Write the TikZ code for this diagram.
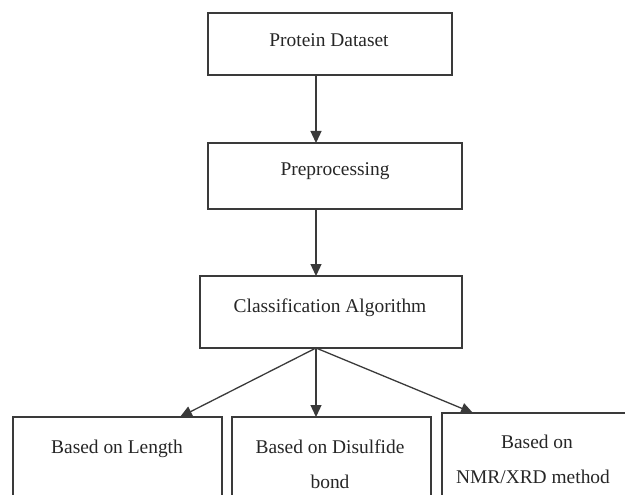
\documentclass[tikz,border=0pt]{standalone}
\usepackage{fontspec}
\setmainfont{Liberation Serif}
\usetikzlibrary{arrows.meta}
\definecolor{ink}{HTML}{3A3A3A}
\definecolor{txt}{HTML}{262626}
\tikzset{
  box/.style={draw=ink, line width=1.4bp},
  lbl/.style={text=txt, anchor=base, inner sep=0pt, font=\fontsize{19.5}{23}\selectfont},
  conn/.style={draw=ink, line width=1.3bp, -{Triangle[length=12bp,width=11bp]}}
}
\begin{document}
\begin{tikzpicture}[x=1bp,y=-1bp]
\useasboundingbox (0,0) rectangle (625,495);
\clip (0,0) rectangle (625,495);
% boxes
\draw[box] (208,13) rectangle (452,75);
\draw[box] (208,143) rectangle (462,209);
\draw[box] (200,276) rectangle (462,348);
\draw[box] (13,417) rectangle (222,520);
\draw[box] (232,417) rectangle (431,520);
\draw[box] (442,413) rectangle (640,520);
% named anchor points
\coordinate (pdB) at (316,75);
\coordinate (ppT) at (316,143);
\coordinate (ppB) at (316,209);
\coordinate (caT) at (316,276);
\coordinate (caB) at (316,348);
\coordinate (lenT) at (180,417);
\coordinate (disT) at (316,417);
\coordinate (nmrT) at (473,413);
% labels
\node[lbl] (pd) at (329,47) {Protein Dataset};
\node[lbl] (pp) at (335,176) {Preprocessing};
\node[lbl] (ca) at (330,312) {Classification Algorithm};
\node[lbl] (len) at (117,453) {Based on Length};
\node[lbl] (dis1) at (330,453) {Based on Disulfide};
\node[lbl] (dis2) at (330,488) {bond};
\node[lbl] (nmr1) at (537,448) {Based on};
\node[lbl] (nmr2) at (533,483) {NMR/XRD method};
% connectors
\draw[conn] (pdB) -- (ppT);
\draw[conn] (ppB) -- (caT);
\draw[conn] (caB) -- (lenT);
\draw[conn] (caB) -- (disT);
\draw[conn] (caB) -- (nmrT);
\end{tikzpicture}
\end{document}
